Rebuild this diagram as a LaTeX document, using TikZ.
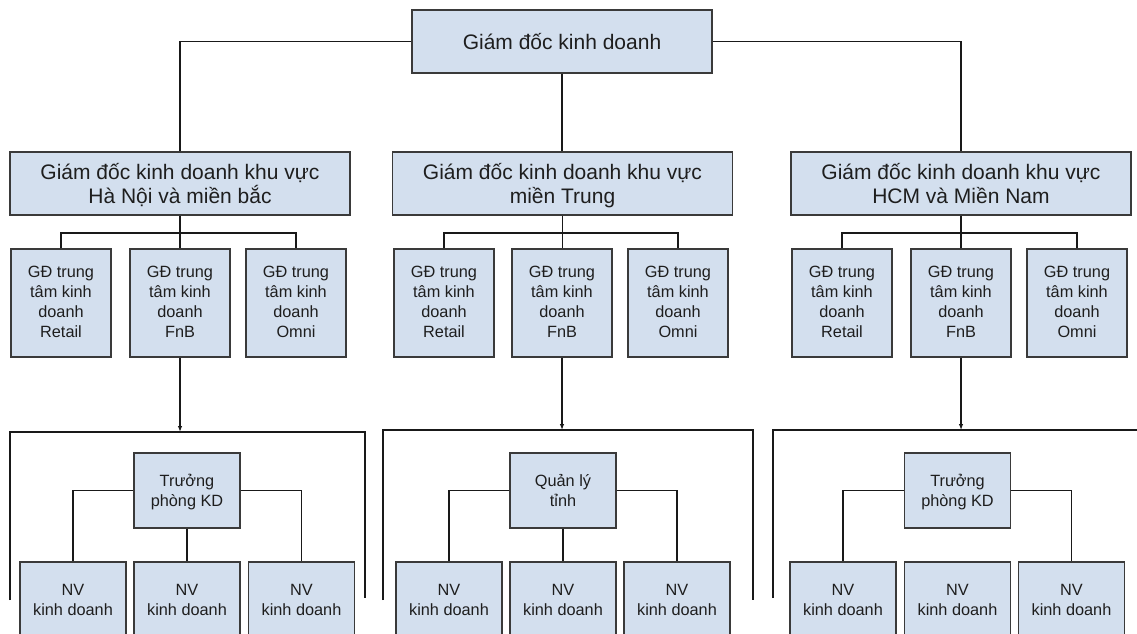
\documentclass[tikz,border=0pt]{standalone}
\usepackage{fontspec}
\setmainfont{Liberation Sans}
\usetikzlibrary{arrows.meta}
\definecolor{boxfill}{HTML}{D3DFEE}
\definecolor{boxdraw}{HTML}{3A3A3A}
\definecolor{txt}{HTML}{1E1E1E}
\tikzset{
  base/.style={draw=boxdraw, fill=boxfill, line width=1.3pt, text=txt, align=center, inner sep=0pt},
  bigbox/.style={base, minimum height=63pt, font=\fontsize{21}{24}\selectfont},
  topbox/.style={bigbox, text height=20pt, text depth=4pt},
  regbox/.style={bigbox, text height=43pt, text depth=4pt},
  smallbox/.style={base, minimum width=100pt, minimum height=108pt, font=\fontsize{16.3}{20}\selectfont, text height=73pt, text depth=4pt},
  lowbox/.style={base, minimum width=106pt, minimum height=75pt, font=\fontsize{16.3}{20}\selectfont, text height=36pt, text depth=4pt},
  conn/.style={draw=black!90, line width=1.1pt},
  arr/.style={conn, -{Latex[length=6pt,width=4.5pt]}},
}
\begin{document}
\begin{tikzpicture}[x=1pt,y=-1pt]
\useasboundingbox (0,0) rectangle (1137,633);
\clip (0,0) rectangle (1137,633);
\fill[white] (0,0) rectangle (1137,633);

% top
\node[topbox, minimum width=300pt] (gd) at (562,41.5) {Giám đốc kinh doanh};

% regions
\node[regbox, minimum width=340pt] (r1) at (180,183.5) {Giám đốc kinh doanh khu vực\\Hà Nội và miền bắc};
\node[regbox, minimum width=340pt] (r2) at (562.5,183.5) {Giám đốc kinh doanh khu vực\\miền Trung};
\node[regbox, minimum width=340pt] (r3) at (961,183.5) {Giám đốc kinh doanh khu vực\\HCM và Miền Nam};

\draw[conn] (gd.west) -| (r1.north);
\draw[conn] (gd.east) -| (r3.north);
\draw[conn] (gd.south) -- (gd.south |- r2.north);

% centers
\node[smallbox] (a1) at (61,303) {GĐ trung\\tâm kinh\\doanh\\Retail};
\node[smallbox] (a2) at (180,303) {GĐ trung\\tâm kinh\\doanh\\FnB};
\node[smallbox] (a3) at (296,303) {GĐ trung\\tâm kinh\\doanh\\Omni};
\node[smallbox] (b1) at (444,303) {GĐ trung\\tâm kinh\\doanh\\Retail};
\node[smallbox] (b2) at (562,303) {GĐ trung\\tâm kinh\\doanh\\FnB};
\node[smallbox] (b3) at (678,303) {GĐ trung\\tâm kinh\\doanh\\Omni};
\node[smallbox] (c1) at (842,303) {GĐ trung\\tâm kinh\\doanh\\Retail};
\node[smallbox] (c2) at (961,303) {GĐ trung\\tâm kinh\\doanh\\FnB};
\node[smallbox] (c3) at (1077,303) {GĐ trung\\tâm kinh\\doanh\\Omni};

\coordinate (ja) at (180,233);
\coordinate (jb) at (562.5,233);
\coordinate (jc) at (961,233);
\draw[conn] (r1.south) -- (ja) -- (a2.north);
\draw[conn] (a1.north) |- (ja) -| (a3.north);
\draw[conn] (r2.south) -- (jb) -- (jb |- b2.north);
\draw[conn] (b1.north) |- (jb) -| (b3.north);
\draw[conn] (r3.south) -- (jc) -- (c2.north);
\draw[conn] (c1.north) |- (jc) -| (c3.north);

% brackets
\coordinate (ka) at (180,432);
\coordinate (kb) at (562,430);
\coordinate (kc) at (961,430);
\draw[arr] (a2.south) -- (ka);
\draw[arr] (b2.south) -- (kb);
\draw[arr] (c2.south) -- (kc);
\draw[conn] (10,600) -- (10,432) -- (ka) -- (365,432) -- (365,598);
\draw[conn] (383,600) -- (383,430) -- (kb) -- (753,430) -- (753,600);
\draw[conn] (773,598) -- (773,430) -- (kc) -- (1145,430);

% third level
\node[lowbox] (ta) at (187,490.5) {Trưởng\\phòng KD};
\node[lowbox] (tb) at (563,490.5) {Quản lý\\tỉnh};
\node[lowbox] (tc) at (957.5,490.5) {Trưởng\\phòng KD};

\node[lowbox] (na1) at (73,599.5) {NV\\kinh doanh};
\node[lowbox] (na2) at (187,599.5) {NV\\kinh doanh};
\node[lowbox] (na3) at (301.5,599.5) {NV\\kinh doanh};
\node[lowbox] (nb1) at (449,599.5) {NV\\kinh doanh};
\node[lowbox] (nb2) at (563,599.5) {NV\\kinh doanh};
\node[lowbox] (nb3) at (677,599.5) {NV\\kinh doanh};
\node[lowbox] (nc1) at (843,599.5) {NV\\kinh doanh};
\node[lowbox] (nc2) at (957.5,599.5) {NV\\kinh doanh};
\node[lowbox] (nc3) at (1071.5,599.5) {NV\\kinh doanh};

\draw[conn] (ta.west) -| (na1.north);
\draw[conn] (ta.east) -| (na3.north);
\draw[conn] (ta.south) -- (na2.north);
\draw[conn] (tb.west) -| (nb1.north);
\draw[conn] (tb.east) -| (nb3.north);
\draw[conn] (tb.south) -- (nb2.north);
\draw[conn] (tc.west) -| (nc1.north);
\draw[conn] (tc.east) -| (nc3.north);
\end{tikzpicture}
\end{document}
